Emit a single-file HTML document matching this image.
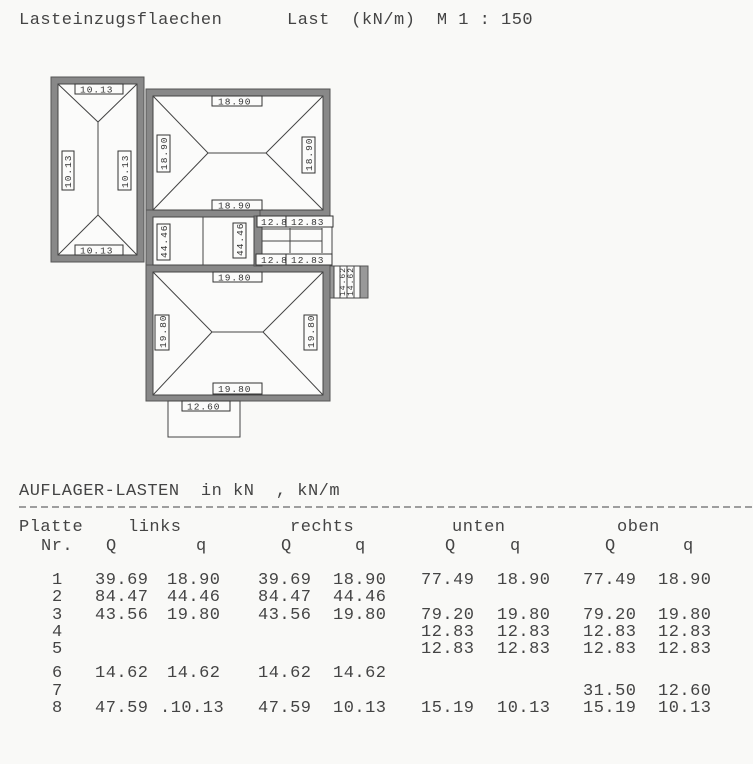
<!DOCTYPE html>
<html><head><meta charset="utf-8"><style>
body{margin:0;background:#f9f9f7;}
#c{position:relative;width:753px;height:764px;overflow:hidden;font-family:"Liberation Mono",monospace;color:#444;}
.t{position:absolute;white-space:pre;font-size:17px;letter-spacing:0.5px;line-height:18px;}
svg{position:absolute;left:0;top:0}
svg text{font-family:"Liberation Mono",monospace;font-size:9.5px;fill:#333;letter-spacing:1px}
</style></head><body><div id="c">
<div class="t" style="left:19px;top:12px">Lasteinzugsflaechen</div>
<div class="t" style="left:287px;top:12px">Last  (kN/m)  M 1 : 150</div>

<svg width="753" height="764" stroke="#333" stroke-width="1" fill="none">
<g fill="#888" stroke="#555">
<rect x="51" y="77" width="93" height="185"/>
<rect x="146" y="89" width="184" height="127"/>
<rect x="146" y="210" width="114" height="62"/>
<rect x="146" y="265" width="184" height="136"/>
<rect x="254" y="216" width="8" height="50"/>
<rect x="330" y="266" width="38" height="32" fill="#999"/>
</g>
<g fill="#fbfbfa" stroke="#444">
<rect x="58" y="84" width="79" height="171"/>
<rect x="153" y="96" width="170" height="114"/>
<rect x="153" y="217" width="101" height="48"/>
<rect x="153" y="272" width="170" height="123"/>
<rect x="262" y="218" width="70" height="46"/>
<rect x="334" y="266" width="26" height="32"/>
<rect x="168" y="401" width="72" height="36"/>
</g>
<g stroke="#444">
<path d="M58 84L98 122L137 84M98 122V215M58 255L98 215L137 255"/>
<path d="M153 96L208 153L266 153L323 96M153 210L208 153M266 153L323 210"/>
<path d="M153 272L212 332L263 332L323 272M153 395L212 332M263 332L323 395"/>
<path d="M203 217V265M262 229H322M262 241H322M290 228V253M322 228V253M340 266V298M347 266V298M354 266V298"/>
</g>
<g fill="#fbfbfa" stroke="#333">
<rect x="75" y="84" width="48" height="10"/><text x="80" y="92.5" stroke="none">10.13</text>
<rect x="75" y="245" width="48" height="10"/><text x="80" y="253.5" stroke="none">10.13</text>
<rect x="62" y="151" width="12" height="39"/><text transform="translate(71,188) rotate(-90)" stroke="none">10.13</text>
<rect x="118" y="151" width="13" height="39"/><text transform="translate(128,188) rotate(-90)" stroke="none">10.13</text>

<rect x="212" y="96" width="50" height="10"/><text x="218" y="104.5" stroke="none">18.90</text>
<rect x="212" y="200" width="50" height="10"/><text x="218" y="208.5" stroke="none">18.90</text>
<rect x="157" y="135" width="13" height="37"/><text transform="translate(167,170) rotate(-90)" stroke="none">18.90</text>
<rect x="302" y="137" width="13" height="36"/><text transform="translate(312,171) rotate(-90)" stroke="none">18.90</text>

<rect x="157" y="224" width="13" height="36"/><text transform="translate(167,258) rotate(-90)" stroke="none">44.46</text>
<rect x="233" y="223" width="13" height="35"/><text transform="translate(243,256) rotate(-90)" stroke="none">44.46</text>

<rect x="257" y="216" width="32" height="11"/><text x="261" y="225" stroke="none">12.8</text>
<rect x="286" y="216" width="47" height="11"/><text x="291" y="225" stroke="none">12.83</text>
<rect x="256" y="254" width="32" height="11"/><text x="261" y="263" stroke="none">12.8</text>
<rect x="286" y="254" width="46" height="11"/><text x="291" y="263" stroke="none">12.83</text>

<rect x="213" y="272" width="49" height="10"/><text x="218" y="280.5" stroke="none">19.80</text>
<rect x="213" y="383" width="49" height="11"/><text x="218" y="392" stroke="none">19.80</text>
<rect x="155" y="315" width="14" height="35"/><text transform="translate(166,348) rotate(-90)" stroke="none">19.80</text>
<rect x="304" y="315" width="13" height="35"/><text transform="translate(314,348) rotate(-90)" stroke="none">19.80</text>

<rect x="182" y="401" width="48" height="10"/><text x="187" y="409.5" stroke="none">12.60</text>
</g>
<text transform="translate(345,296) rotate(-90)" stroke="none" style="font-size:8px">14.62</text>
<text transform="translate(353,296) rotate(-90)" stroke="none" style="font-size:8px">14.62</text>
<line x1="19" y1="507" x2="753" y2="507" stroke="#444" stroke-dasharray="7,4"/>
</svg>

<div class="t" style="left:19px;top:483px">AUFLAGER-LASTEN  in kN  , kN/m</div>
<div class="t" style="left:19px;top:519px">Platte</div>
<div class="t" style="left:128px;top:519px">links</div>
<div class="t" style="left:290px;top:519px">rechts</div>
<div class="t" style="left:452px;top:519px">unten</div>
<div class="t" style="left:617px;top:519px">oben</div>
<div class="t" style="left:41px;top:538px">Nr.</div>
<div class="t" style="left:106px;top:538px">Q</div>
<div class="t" style="left:196px;top:538px">q</div>
<div class="t" style="left:281px;top:538px">Q</div>
<div class="t" style="left:355px;top:538px">q</div>
<div class="t" style="left:445px;top:538px">Q</div>
<div class="t" style="left:510px;top:538px">q</div>
<div class="t" style="left:605px;top:538px">Q</div>
<div class="t" style="left:683px;top:538px">q</div>

<div class="t" style="left:52px;top:572px">1</div><div class="t" style="left:95px;top:572px">39.69</div><div class="t" style="left:167px;top:572px">18.90</div><div class="t" style="left:258px;top:572px">39.69</div><div class="t" style="left:333px;top:572px">18.90</div><div class="t" style="left:421px;top:572px">77.49</div><div class="t" style="left:497px;top:572px">18.90</div><div class="t" style="left:583px;top:572px">77.49</div><div class="t" style="left:658px;top:572px">18.90</div>
<div class="t" style="left:52px;top:589px">2</div><div class="t" style="left:95px;top:589px">84.47</div><div class="t" style="left:167px;top:589px">44.46</div><div class="t" style="left:258px;top:589px">84.47</div><div class="t" style="left:333px;top:589px">44.46</div>
<div class="t" style="left:52px;top:607px">3</div><div class="t" style="left:95px;top:607px">43.56</div><div class="t" style="left:167px;top:607px">19.80</div><div class="t" style="left:258px;top:607px">43.56</div><div class="t" style="left:333px;top:607px">19.80</div><div class="t" style="left:421px;top:607px">79.20</div><div class="t" style="left:497px;top:607px">19.80</div><div class="t" style="left:583px;top:607px">79.20</div><div class="t" style="left:658px;top:607px">19.80</div>
<div class="t" style="left:52px;top:624px">4</div><div class="t" style="left:421px;top:624px">12.83</div><div class="t" style="left:497px;top:624px">12.83</div><div class="t" style="left:583px;top:624px">12.83</div><div class="t" style="left:658px;top:624px">12.83</div>
<div class="t" style="left:52px;top:641px">5</div><div class="t" style="left:421px;top:641px">12.83</div><div class="t" style="left:497px;top:641px">12.83</div><div class="t" style="left:583px;top:641px">12.83</div><div class="t" style="left:658px;top:641px">12.83</div>
<div class="t" style="left:52px;top:665px">6</div><div class="t" style="left:95px;top:665px">14.62</div><div class="t" style="left:167px;top:665px">14.62</div><div class="t" style="left:258px;top:665px">14.62</div><div class="t" style="left:333px;top:665px">14.62</div>
<div class="t" style="left:52px;top:683px">7</div><div class="t" style="left:583px;top:683px">31.50</div><div class="t" style="left:658px;top:683px">12.60</div>
<div class="t" style="left:52px;top:700px">8</div><div class="t" style="left:95px;top:700px">47.59</div><div class="t" style="left:160px;top:700px">.10.13</div><div class="t" style="left:258px;top:700px">47.59</div><div class="t" style="left:333px;top:700px">10.13</div><div class="t" style="left:421px;top:700px">15.19</div><div class="t" style="left:497px;top:700px">10.13</div><div class="t" style="left:583px;top:700px">15.19</div><div class="t" style="left:658px;top:700px">10.13</div>
</div></body></html>
